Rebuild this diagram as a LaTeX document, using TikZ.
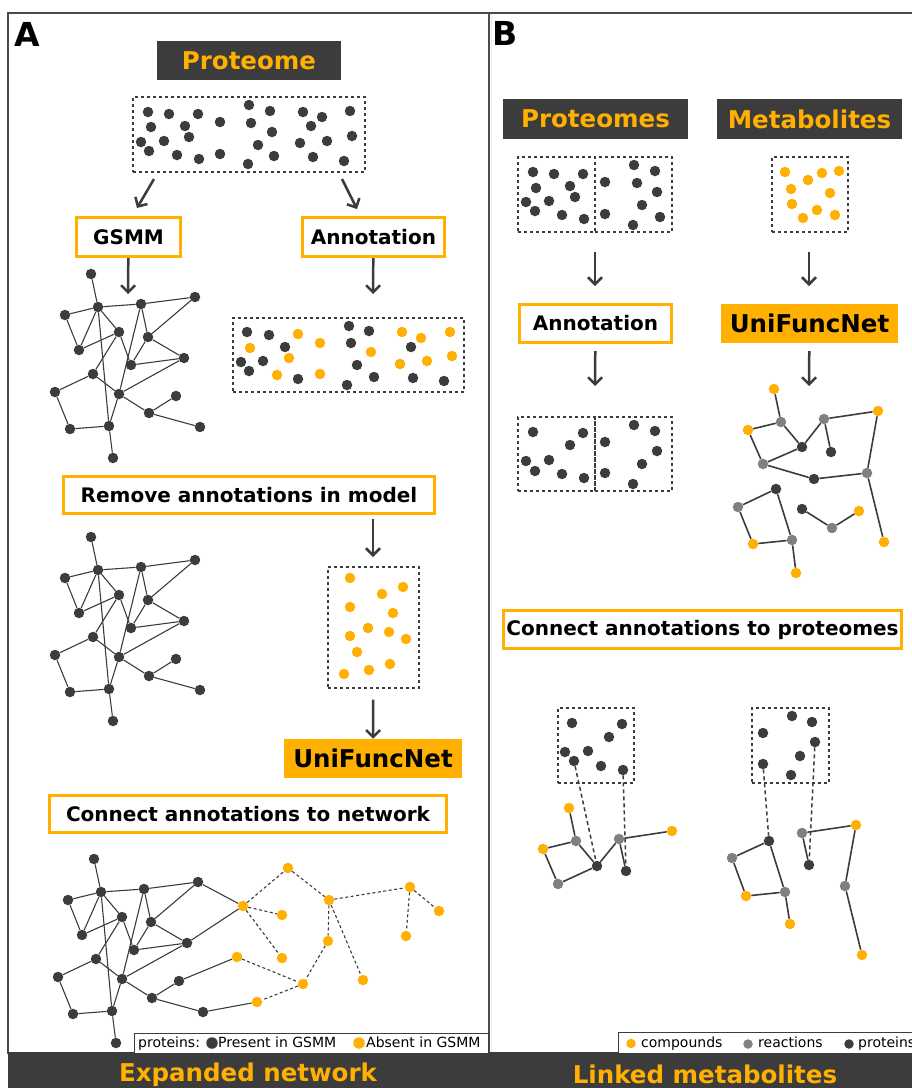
\documentclass[tikz,border=0pt]{standalone}
\usepackage{fontspec}
\setmainfont{DejaVu Sans}
\usepackage{tikz}
\usetikzlibrary{arrows.meta,calc}
\definecolor{darkGrey}{RGB}{60,60,60}
\definecolor{frameGrey}{RGB}{75,75,75}
\definecolor{uniOrange}{RGB}{255,176,0}
\definecolor{reacGrey}{RGB}{128,128,128}
\newcommand\bigfont{\fontsize{24.5}{28}\selectfont\bfseries}
\newcommand\midfont{\fontsize{20}{24}\selectfont\bfseries}
\newcommand\legfont{\fontsize{14}{16}\selectfont}
% GSMM network, used three times
\newcommand\gsmmnodes{1/91/274,2/98/307,3/65/315,4/141/304,5/195/297,6/119/332,7/148/337,8/79/350,9/131/365,10/184/358,11/93/374,12/55/392,13/119/394,14/176/396,15/149/413,16/200/427,17/70/429,18/109/426,19/113/458}
\newcommand\gsmmlinks{1/2,2/3,2/4,4/5,2/8,3/8,2/6,8/6,2/18,6/11,6/9,4/7,4/13,13/18,5/7,7/9,7/10,9/10,11/12,11/13,13/10,13/15,15/14,15/16,12/17,17/18,18/19}

\begin{document}
\begin{tikzpicture}[
    x=1pt, y=-1pt,
    titlebox/.style={rectangle, fill=darkGrey, text=uniOrange, font=\bigfont, inner sep=0pt},
    stepbox/.style={rectangle, draw=uniOrange, line width=3pt, fill=white, font=\midfont, inner sep=0pt},
    unibox/.style={rectangle, fill=uniOrange, font=\bigfont, inner sep=0pt},
    dotbox/.style={rectangle, draw=darkGrey, line width=1.4pt, dash pattern=on 3pt off 3pt, inner sep=0pt},
    prot/.style={circle, fill=darkGrey, inner sep=0pt, minimum size=10.5pt},
    cpd/.style={prot, fill=uniOrange},
    rxn/.style={prot, fill=reacGrey},
    link/.style={darkGrey, line width=1.1pt},
    newlink/.style={darkGrey, line width=1.1pt, dash pattern=on 3pt off 2.5pt},
    rlink/.style={darkGrey, line width=1.6pt},
    plink/.style={darkGrey, line width=1.5pt, dash pattern=on 4pt off 3pt},
    arrow/.style={-{Straight Barb[length=7pt,width=14pt]}, line width=2.5pt, darkGrey},
    legtext/.style={font=\legfont, anchor=base west, inner sep=0pt},
    ]
    \useasboundingbox (0,0) rectangle (912,1088);
    \clip (0,0) rectangle (912,1088);
    % Frames
    \draw[frameGrey, line width=2pt] (8,13) rectangle (489,1053);
    \draw[frameGrey, line width=2pt] (489,13) -- (912,13);
    \draw[gray!15, line width=1pt] (491,14) -- (491,1052);
    \fill[darkGrey] (8,1052) rectangle (912,1088);
    \node[font=\fontsize{33}{36}\selectfont\bfseries, anchor=base west, inner sep=0pt] (lblA) at (14,46.5) {A};
    \node[font=\fontsize{33}{36}\selectfont\bfseries, anchor=base west, inner sep=0pt] (lblB) at (492,45.5) {B};
    \node[font=\bigfont, text=uniOrange, anchor=base] (expnet) at (248,1081) {Expanded network};
    \node[font=\bigfont, text=uniOrange, anchor=base] (linkmet) at (705,1083) {Linked metabolites};

    % Panel A: proteome
    \node[titlebox, minimum width=184pt, minimum height=39pt] (proteome) at (249,60.5) {Proteome};
    \node[dotbox, minimum width=232pt, minimum height=75pt] (pbox) at (249,134.5) {};
    \foreach \x/\y [count=\i] in {148/112,169/114,198/114,220/122,249/105,270/111,303/112,322/117,350/111,151/127,185/126,251/123,272/132,311/126,141/142,164/141,189/137,258/145,300/143,327/141,352/136,149/151,177/155,199/159,220/154,248/164,274/156,313/157,344/161}
        \node[prot] (pa\i) at (\x,\y) {};
    \coordinate (pgs) at (154,179);
    \coordinate (pge) at (137,208);
    \coordinate (pas) at (342,179);
    \coordinate (pae) at (357,209);
    \draw[arrow] (pgs) -- (pge);
    \draw[arrow] (pas) -- (pae);

    % Row: GSMM and Annotation
    \node[stepbox, minimum width=104pt, minimum height=39pt] (gsmm) at (128.5,237) {GSMM};
    \node[stepbox, minimum width=142pt, minimum height=39pt] (annoA) at (373.5,237) {Annotation};
    \coordinate (gsmmtip) at (128,294);
    \coordinate (annoAtip) at (373,294);
    \draw[arrow] (gsmm) -- (gsmmtip);
    \draw[arrow] (annoA) -- (annoAtip);
    \begin{scope}[name prefix=g]
        \foreach \n/\x/\y in \gsmmnodes \node[prot] (\n) at (\x,\y) {};
        \foreach \a/\b in \gsmmlinks \draw[link] (\a) -- (\b);
    \end{scope}
    \node[dotbox, minimum width=231pt, minimum height=74pt] (abox) at (348.5,355) {};
    \foreach \x/\y [count=\i] in {247/332,269/335,285/347,241/362,263/361,249/371,298/379,349/326,369/331,351/343,357/365,374/377,347/385,411/347,413/378,444/381}
        \node[prot] (ad\i) at (\x,\y) {};
    \foreach \x/\y [count=\i] in {298/334,320/343,250/348,289/358,277/375,320/374,371/352,402/332,421/338,450/332,427/361,400/364,452/356}
        \node[cpd] (ao\i) at (\x,\y) {};

    % Remove annotations
    \node[stepbox, minimum width=371pt, minimum height=37pt] (remove) at (249,495) {Remove annotations in model};
    \coordinate (removetip) at (373,557);
    \draw[arrow, shorten <=4pt] (remove.south -| removetip) -- (removetip);
    \begin{scope}[shift={(0,263)}, name prefix=m]
        \foreach \n/\x/\y in \gsmmnodes \node[prot] (\n) at (\x,\y) {};
        \foreach \a/\b in \gsmmlinks \draw[link] (\a) -- (\b);
    \end{scope}
    \node[dotbox, minimum width=91pt, minimum height=121pt] (ybox) at (373.5,627.5) {};
    \foreach \x/\y [count=\i] in {350/578,382/594,403/587,350/607,393/613,368/628,389/632,350/636,406/639,357/652,344/674,369/670,390/664}
        \node[cpd] (yo\i) at (\x,\y) {};
    \node[unibox, minimum width=178pt, minimum height=39pt] (uniA) at (373,758.5) {UniFuncNet};
    \draw[arrow, shorten <=11pt] (ybox) -- (uniA);

    % Connect annotations to network
    \node[stepbox, minimum width=397pt, minimum height=37pt] (connA) at (248,814) {Connect annotations to network};
    \begin{scope}[shift={(3,585)}, name prefix=b]
        \foreach \n/\x/\y in \gsmmnodes \node[prot] (\n) at (\x,\y) {};
        \foreach \a/\b in \gsmmlinks \draw[link] (\a) -- (\b);
    \end{scope}
    \foreach \n/\x/\y in {o1/243/906,o2/288/868,o3/282/915,o4/329/900,o5/410/887,o6/439/911,o7/282/958,o8/328/941,o9/406/936,o10/237/957,o11/303/984,o12/363/980,o13/257/1002}
        \node[cpd] (\n) at (\x,\y) {};
    \foreach \a/\b in {b10/o1,b5/o1,b14/o10,b16/o13}
        \draw[link] (\a) -- (\b);
    \foreach \a/\b in {o1/o2,o1/o3,o1/o7,o2/o4,o4/o5,o5/o6,o5/o9,o4/o8,o4/o12,o8/o11,o10/o11,o11/o13}
        \draw[newlink] (\a) -- (\b);

    % Legend A
    \node[draw=darkGrey, fill=white, line width=0.8pt, minimum width=354pt, minimum height=20pt, inner sep=0pt] (legA) at (311,1043) {};
    \node[legtext] (legAlab) at (138,1047) {proteins:};
    \node[prot, minimum size=11.5pt] (legApres) at (212,1043) {};
    \node[legtext] (legApt) at (218,1047) {Present in GSMM};
    \node[cpd, minimum size=11.5pt] (legAabs) at (359,1043) {};
    \node[legtext] (legAat) at (366,1047) {Absent in GSMM};

    % Panel B: inputs
    \node[titlebox, minimum width=185pt, minimum height=40pt] (proteomes) at (595.5,119) {Proteomes};
    \node[titlebox, minimum width=185pt, minimum height=40pt] (metabolites) at (809.5,119) {Metabolites};
    \node[dotbox, minimum width=77pt, minimum height=75pt] (prl) at (556.5,194.5) {};
    \node[dotbox, minimum width=77pt, minimum height=75pt] (prr) at (633.5,194.5) {};
    \node[dotbox, minimum width=76pt, minimum height=75pt] (metbox) at (810,194.5) {};
    \foreach \x/\y [count=\i] in {533/172,554/174,583/174,536/188,570/186,526/202,549/201,575/197,535/211,562/215,584/219,634/165,655/171,605/182,637/183,657/192,642/205,605/214,660/217,633/225}
        \node[prot] (bp\i) at (\x,\y) {};
    \foreach \x/\y [count=\i] in {785/172,808/180,822/173,839/171,791/189,830/193,792/204,817/210,835/215,803/218}
        \node[cpd] (bm\i) at (\x,\y) {};
    \node[stepbox, minimum width=152pt, minimum height=38pt] (annoB) at (595.5,323.5) {Annotation};
    \node[unibox, minimum width=177pt, minimum height=39pt] (uniB) at (809.5,323.5) {UniFuncNet};
    \coordinate (annoBin) at (595,286);
    \coordinate (uniBin) at (809,286);
    \draw[arrow, shorten <=19pt] (prl.south -| annoBin) -- (annoBin);
    \draw[arrow, shorten <=19pt] (metbox.south -| uniBin) -- (uniBin);
    \coordinate (annoBtip) at (595,386);
    \coordinate (uniBtip) at (809,386);
    \draw[arrow, shorten <=7pt] (annoB) -- (annoBtip);
    \draw[arrow, shorten <=8pt] (uniB) -- (uniBtip);

    % Annotated proteomes
    \node[dotbox, minimum width=77pt, minimum height=74pt] (anl) at (556.5,454) {};
    \node[dotbox, minimum width=77pt, minimum height=74pt] (anr) at (633.5,454) {};
    \foreach \x/\y [count=\i] in {533/432,583/433,570/445,526/461,549/460,535/471,562/474,584/478,634/425,655/431,605/442,657/451,642/464,605/473,633/484}
        \node[prot] (ap\i) at (\x,\y) {};

    % UniFuncNet network
    \foreach \n/\s/\x/\y in {c1/cpd/774/389,c2/rxn/781/422,c3/cpd/748/430,c4/prot/802/447,c5/rxn/824/419,c6/cpd/878/411,c7/prot/831/452,c8/rxn/763/464,c9/prot/814/479,c10/rxn/867/473,c11/prot/776/489,c12/rxn/738/507,c13/prot/802/509,c14/cpd/859/511,c15/rxn/832/528,c16/cpd/753/544,c17/rxn/792/540,c18/cpd/884/542,c19/cpd/796/573}
        \node[\s] (\n) at (\x,\y) {};
    \foreach \a/\b in {c1/c2,c3/c2,c2/c4,c4/c5,c5/c6,c5/c7,c4/c8,c3/c8,c8/c9,c9/c10,c6/c10,c10/c18,c11/c12,c11/c17,c12/c16,c16/c17,c17/c19,c13/c15,c15/c14}
        \draw[rlink] (\a) -- (\b);

    % Connect annotations to proteomes
    \node[stepbox, minimum width=398pt, minimum height=38pt] (connB) at (702.5,629.5) {Connect annotations to proteomes};
    \node[dotbox, minimum width=76pt, minimum height=75pt] (cl) at (596,745.5) {};
    \node[dotbox, minimum width=77pt, minimum height=75pt] (cr) at (790.5,745.5) {};
    \foreach \x/\y [count=\i] in {572/723,622/724,609/737,565/752,588/751,574/761,601/766,623/770}
        \node[prot] (pl\i) at (\x,\y) {};
    \foreach \x/\y [count=\i] in {792/716,812/722,763/733,815/742,800/756,763/764,791/775}
        \node[prot] (pr\i) at (\x,\y) {};
    \foreach \n/\s/\x/\y in {d1/cpd/569/808,d2/rxn/576/841,d3/cpd/543/849,d4/prot/597/866,d5/rxn/619/839,d6/cpd/672/831,d7/prot/626/871,d8/rxn/558/884,e1/prot/769/841,e2/rxn/732/858,e3/cpd/746/896,e4/rxn/785/892,e5/cpd/790/924,e6/rxn/802/833,e7/cpd/856/825,e8/prot/809/865,e9/rxn/845/886,e10/cpd/862/955}
        \node[\s] (\n) at (\x,\y) {};
    \foreach \a/\b in {d1/d2,d3/d2,d2/d4,d4/d5,d5/d6,d5/d7,d3/d8,d8/d4,e1/e2,e2/e3,e3/e4,e1/e4,e4/e5,e6/e7,e6/e8,e7/e9,e9/e10}
        \draw[rlink] (\a) -- (\b);
    \foreach \a/\b in {pl6/d4,pl8/d7,pr6/e1,pr4/e8}
        \draw[plink] (\a) -- (\b);

    % Legend B
    \node[draw=darkGrey, fill=white, line width=0.8pt, minimum width=297pt, minimum height=21pt, inner sep=0pt] (legB) at (766.5,1042.5) {};
    \node[cpd, minimum size=9.5pt] (legBc) at (631,1043.5) {};
    \node[legtext] (legBct) at (641,1047) {compounds};
    \node[rxn, minimum size=9.5pt] (legBr) at (748,1044) {};
    \node[legtext] (legBrt) at (758,1047) {reactions};
    \node[prot, minimum size=9.5pt] (legBp) at (849,1044) {};
    \node[legtext] (legBpt) at (858,1047) {proteins};
\end{tikzpicture}
\end{document}
